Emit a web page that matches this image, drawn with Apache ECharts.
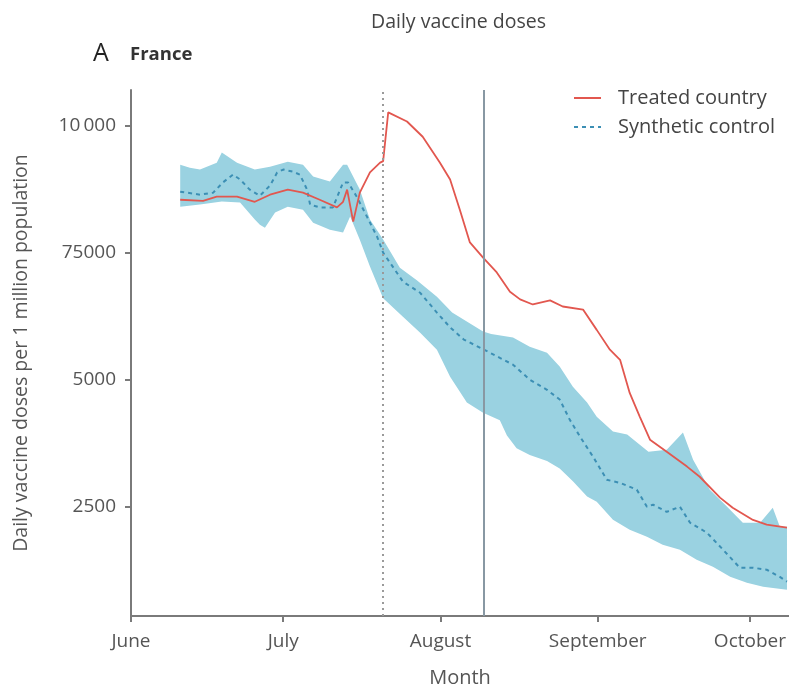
<!DOCTYPE html>
<html>
<head>
<meta charset="utf-8">
<script src="https://cdn.jsdelivr.net/npm/echarts@6/dist/echarts.min.js"></script>
<style>
  html, body { margin: 0; background: #fff; }
  #chart { width: 789px; height: 690px; }
</style>
</head>
<body>
<div id="chart"></div>
<script>
// x = days since 1 June, y = daily doses per 1 million
var monthTicks = [0, 30, 61, 92, 122];
var monthLabels = ["June", "July", "August", "September", "October"];
var doseTicks = [2500, 5000, 7500, 10000];
var doseLabels = ["2500", "5000", "75000", "10\u2009000"];

var interventionDay = 49.6;
var mandateDay = 69.6;

var treated = [
  [9.7, 8540], [14.2, 8520], [16.9, 8600], [20.9, 8600], [24.4, 8500], [27.4, 8640],
  [30.9, 8740], [33.9, 8680], [37.2, 8540], [40.6, 8390], [41.8, 8500], [42.6, 8740],
  [43.8, 8110], [45.1, 8680], [47.1, 9080], [49.1, 9270], [49.7, 9300], [50.7, 10260],
  [54.4, 10080], [57.5, 9780], [60.9, 9270], [62.9, 8940], [64.8, 8350], [66.8, 7700],
  [69.4, 7400], [72.1, 7110], [74.7, 6730], [76.7, 6580], [79.2, 6480], [82.6, 6560],
  [85.1, 6440], [89.1, 6380], [91.8, 5980], [94.4, 5590], [96.4, 5390], [98.3, 4740],
  [100.3, 4270], [102.3, 3820], [105.6, 3580], [109.6, 3290], [112.1, 3090], [116.1, 2680],
  [118.6, 2480], [122.6, 2240], [125.3, 2150], [129.3, 2090]
];

var synthetic = [
  [9.7, 8700], [13.6, 8640], [16.2, 8680], [18.1, 8880], [20.1, 9035], [21.5, 8940],
  [23.4, 8740], [25.4, 8620], [27.4, 8820], [28.8, 9075], [30.0, 9135], [31.9, 9095],
  [33.3, 9035], [34.7, 8740], [35.3, 8445], [37.2, 8390], [39.8, 8390], [41.8, 8880],
  [42.8, 8880], [44.5, 8600], [46.5, 8210], [48.5, 7815], [49.7, 7500], [53.6, 6930],
  [57.0, 6710], [60.3, 6320], [62.9, 6030], [65.6, 5790], [69.4, 5600], [72.7, 5430],
  [75.3, 5295], [78.6, 5000], [82.0, 4800], [84.5, 4610], [86.5, 4210], [88.5, 3880],
  [91.1, 3480], [93.8, 3030], [96.4, 2970], [99.7, 2835], [101.7, 2500], [102.9, 2540],
  [105.6, 2400], [108.2, 2500], [110.2, 2185], [113.5, 1990], [116.7, 1655], [120.0, 1300],
  [122.6, 1300], [125.3, 1260], [127.9, 1120], [129.3, 1025]
];

var bandUpper = [
  [9.7, 9230], [11.6, 9170], [13.6, 9135], [16.9, 9270], [17.9, 9470], [20.9, 9270],
  [24.4, 9135], [27.4, 9190], [30.9, 9290], [33.9, 9230], [35.9, 9000], [39.2, 8900],
  [41.8, 9230], [42.6, 9230], [45.1, 8740], [47.1, 8150], [49.7, 7760], [53.0, 7200],
  [56.4, 6950], [60.3, 6630], [63.3, 6320], [69.4, 5950], [71.0, 5900], [75.3, 5830],
  [78.6, 5650], [82.0, 5530], [84.5, 5260], [87.1, 4860], [89.9, 4550], [91.8, 4270],
  [95.0, 3980], [97.8, 3920], [102.0, 3580], [105.6, 3620], [108.8, 3960], [110.8, 3425],
  [114.1, 2835], [117.5, 2500], [120.6, 2185], [124.0, 2185], [126.5, 2480], [127.9, 2105],
  [129.3, 2105]
];

var bandLower = [
  [9.7, 8405], [13.6, 8445], [17.9, 8505], [21.5, 8485], [24.4, 8150], [25.4, 8050],
  [26.4, 7990], [28.4, 8290], [30.9, 8405], [33.9, 8345], [35.9, 8090], [39.2, 7950],
  [41.8, 7895], [43.2, 8210], [45.1, 7755], [47.1, 7225], [49.7, 6600], [53.6, 6240],
  [57.0, 5925], [60.3, 5590], [62.9, 5060], [66.2, 4550], [69.4, 4350], [72.7, 4200],
  [74.1, 3900], [76.0, 3650], [78.6, 3520], [82.0, 3400], [84.5, 3250], [87.1, 3000],
  [89.9, 2700], [91.8, 2600], [95.0, 2245], [98.3, 2045], [101.7, 1910], [104.8, 1750],
  [108.2, 1655], [111.5, 1455], [114.7, 1320], [118.1, 1120], [121.4, 1005], [124.6, 925],
  [129.3, 865]
];

var font = "Open Sans";
var chart = echarts.init(document.getElementById("chart"));

chart.setOption({
  animation: false,
  textStyle: { fontFamily: font },
  title: [
    {
      text: "Daily vaccine doses",
      left: 366,
      top: 7,
      textStyle: { fontFamily: font, fontSize: 19.5, fontWeight: "normal", color: "#444" }
    },
    {
      text: "A",
      left: 88,
      top: 36,
      textStyle: { fontFamily: font, fontSize: 25, fontWeight: "normal", color: "#222" }
    },
    {
      text: "France",
      left: 125,
      top: 40,
      textStyle: { fontFamily: font, fontSize: 18.5, fontWeight: "bold", color: "#333" }
    }
  ],
  legend: {
    data: ["Treated country", "Synthetic control"],
    orient: "vertical",
    left: 568,
    top: 83,
    itemWidth: 27,
    itemHeight: 12,
    itemGap: 9,
    itemStyle: { opacity: 0 },
    textStyle: { fontFamily: font, fontSize: 20, color: "#444", padding: [0, 0, 0, 12] }
  },
  grid: { left: 131, right: 0, top: 90, bottom: 74, outerBoundsMode: "none" },
  xAxis: {
    type: "value",
    min: 0,
    max: 129.7,
    name: "Month",
    nameLocation: "middle",
    nameGap: 52,
    nameTextStyle: { fontFamily: font, fontSize: 20, color: "#555" },
    splitLine: { show: false },
    axisLine: { onZero: false, lineStyle: { color: "#7a7a7a", width: 2 } },
    axisTick: { customValues: monthTicks, length: 6, lineStyle: { color: "#7a7a7a", width: 2 } },
    axisLabel: {
      customValues: monthTicks,
      margin: 16,
      fontFamily: font,
      fontSize: 19,
      color: "#555",
      formatter: function (v) { return monthLabels[monthTicks.indexOf(v)]; }
    }
  },
  yAxis: {
    type: "value",
    min: 350,
    max: 10700,
    name: "Daily vaccine doses per 1 million population",
    nameLocation: "middle",
    nameGap: 100,
    nameTextStyle: { fontFamily: font, fontSize: 19.5, color: "#555" },
    splitLine: { show: false },
    axisLine: { show: true, lineStyle: { color: "#7a7a7a", width: 2 } },
    axisTick: { show: true, customValues: doseTicks, length: 6, lineStyle: { color: "#7a7a7a", width: 2 } },
    axisLabel: {
      customValues: doseTicks,
      margin: 15,
      fontFamily: font,
      fontSize: 19,
      color: "#555",
      formatter: function (v) { return doseLabels[doseTicks.indexOf(v)]; }
    }
  },
  series: [
    {
      type: "custom",
      name: "band",
      silent: true,
      z: 1,
      data: [[60, 5000]],
      renderItem: function (params, api) {
        var up = bandUpper.map(function (p) { return api.coord(p); });
        var low = bandLower.slice().reverse().map(function (p) { return api.coord(p); });
        return {
          type: "polygon",
          shape: { points: up.concat(low) },
          style: { fill: "#9ad2e1" }
        };
      }
    },
    {
      type: "line",
      name: "Synthetic control",
      data: synthetic,
      symbol: "none",
      z: 3,
      color: "#3c8fb4",
      lineStyle: { color: "#3c8fb4", width: 2, type: [4, 4] },
      markLine: {
        silent: true,
        symbol: ["none", "none"],
        label: { show: false },
        data: [
          { xAxis: interventionDay, lineStyle: { type: [2, 4], color: "#9a9a9a", width: 2 } },
          { xAxis: mandateDay, lineStyle: { type: "solid", color: "#8898a3", width: 2 } }
        ]
      }
    },
    {
      type: "line",
      name: "Treated country",
      data: treated,
      symbol: "none",
      z: 4,
      color: "#e2574f",
      lineStyle: { color: "#e2574f", width: 1.8 }
    }
  ]
});
</script>
</body>
</html>
